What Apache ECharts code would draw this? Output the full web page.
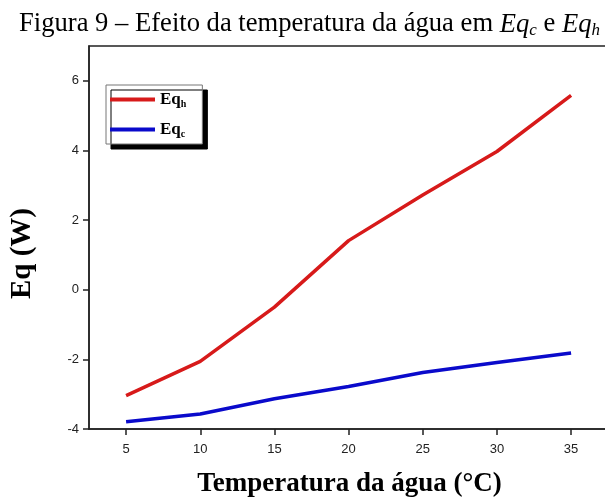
<!DOCTYPE html>
<html>
<head>
<meta charset="utf-8">
<script src="https://cdn.jsdelivr.net/npm/echarts@6/dist/echarts.min.js"></script>
<style>
  html, body { margin: 0; padding: 0; background: #fff; }
  #chart { width: 605px; height: 497px; }
</style>
</head>
<body>
<div id="chart"></div>
<script>
// Water temperature (°C) on the x axis
const temperatures = [5, 10, 15, 20, 25, 30, 35];
// Heat exchange values (W)
const eqH = [-3.04, -2.06, -0.50, 1.41, 2.72, 3.97, 5.58];
const eqC = [-3.79, -3.57, -3.13, -2.78, -2.38, -2.09, -1.82];
const xTicks = [5, 10, 15, 20, 25, 30, 35];
const yTicks = [-4, -2, 0, 2, 4, 6];

const serif = '"Liberation Serif", "Times New Roman", serif';
const sans = '"Liberation Sans", Arial, sans-serif';

const chart = echarts.init(document.getElementById('chart'), null, { renderer: 'canvas' });

function pairs(ys) {
  return temperatures.map((t, i) => [t, ys[i]]);
}

chart.setOption({
  backgroundColor: '#ffffff',
  animation: false,
  title: {
    text: '{n|Figura 9 – Efeito da temperatura da água em }{i|Eq}{s|c}{n| e }{i|Eq}{s|h}',
    left: 19,
    top: 10,
    padding: 0,
    textStyle: {
      fontWeight: 'normal',
      rich: {
        n: { fontFamily: serif, fontSize: 26.6, fontWeight: 'normal', color: '#000' },
        i: { fontFamily: serif, fontSize: 26.6, fontStyle: 'italic', fontWeight: 'normal', color: '#000' },
        s: { fontFamily: serif, fontSize: 17, fontStyle: 'italic', fontWeight: 'normal', color: '#000', padding: [12, 0, 0, 0] }
      }
    }
  },
  grid: {
    left: 89,
    right: -18,
    top: 46,
    bottom: 68,
    outerBoundsMode: 'none',
    containLabel: false,
    show: true,
    borderColor: '#222',
    borderWidth: 1.5
  },
  legend: {
    orient: 'vertical',
    left: 106,
    top: 85,
    padding: [6, 16, 5, 4],
    itemGap: 12,
    itemWidth: 45,
    itemHeight: 4,
    icon: 'rect',
    backgroundColor: '#fff',
    borderColor: '#777',
    borderWidth: 1,
    shadowColor: '#000',
    shadowBlur: 0,
    shadowOffsetX: 5,
    shadowOffsetY: 5,
    data: ['Eqh', 'Eqc'],
    formatter: function (name) {
      return '{a|Eq}{b|' + name.slice(2) + '}';
    },
    textStyle: {
      rich: {
        a: { fontFamily: serif, fontSize: 17, fontWeight: 'bold', color: '#000' },
        b: { fontFamily: serif, fontSize: 10, fontWeight: 'bold', color: '#000', padding: [9, 0, 0, 0] }
      }
    }
  },
  xAxis: {
    type: 'value',
    min: 2.5,
    max: 38.5,
    name: 'Temperatura da água (°C)',
    nameLocation: 'middle',
    nameGap: 42,
    nameTextStyle: { fontFamily: serif, fontSize: 27, fontWeight: 'bold', color: '#000', padding: [0, 13, 0, 0] },
    splitLine: { show: false },
    axisLine: { onZero: false, lineStyle: { color: '#222', width: 1.5 } },
    axisTick: { customValues: xTicks, length: 6, lineStyle: { color: '#222', width: 1.5 } },
    axisLabel: { customValues: xTicks, fontFamily: sans, fontSize: 13, color: '#222', margin: 14 }
  },
  yAxis: {
    type: 'value',
    min: -4,
    max: 7,
    name: 'Eq (W)',
    nameLocation: 'middle',
    nameGap: 52,
    nameRotate: 90,
    nameTextStyle: { fontFamily: serif, fontSize: 29, fontWeight: 'bold', color: '#000', padding: [0, 32, 0, 0] },
    splitLine: { show: false },
    axisLine: { show: true, onZero: false, lineStyle: { color: '#222', width: 1.5 } },
    axisTick: { show: true, customValues: yTicks, length: 6, lineStyle: { color: '#222', width: 1.5 } },
    axisLabel: { customValues: yTicks, fontFamily: sans, fontSize: 13, color: '#222', margin: 10 }
  },
  series: [
    {
      name: 'Eqh',
      type: 'line',
      data: pairs(eqH),
      symbol: 'none',
      lineStyle: { color: '#d71a1a', width: 3.5 },
      itemStyle: { color: '#d71a1a' }
    },
    {
      name: 'Eqc',
      type: 'line',
      data: pairs(eqC),
      symbol: 'none',
      lineStyle: { color: '#0a0acb', width: 3.5 },
      itemStyle: { color: '#0a0acb' }
    }
  ]
});
</script>
</body>
</html>
